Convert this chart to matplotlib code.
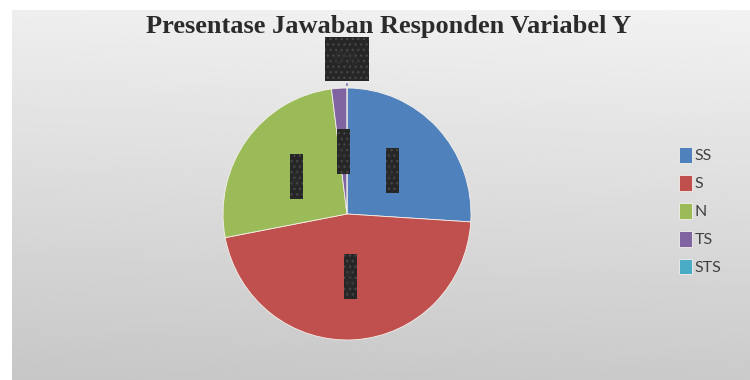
import numpy as np
import matplotlib
matplotlib.use("Agg")
import matplotlib.pyplot as plt
from matplotlib.patches import Rectangle

title = "Presentase Jawaban Responden Variabel Y"
categories = ["SS", "S", "N", "TS", "STS"]
values = [26, 46, 26, 2, 0]
colors = ["#4F81BD", "#C0504D", "#9BBB59", "#8064A2", "#4BACC6"]

W, H = 750, 380
fig = plt.figure(figsize=(W / 100, H / 100), dpi=100)
fig.patch.set_facecolor("white")

# grey gradient chart area (lighter at the top)
bg = fig.add_axes([12 / W, 0, 1 - 12 / W, 1 - 10 / H])
grad = np.linspace(0.94, 0.785, 256)[:, None] * np.ones((1, 64))
grad = grad + np.linspace(-0.006, 0.008, 64)[None, :]
bg.imshow(grad, cmap="gray", vmin=0, vmax=1, aspect="auto", extent=[0, 1, 0, 1])
bg.axis("off")

fig.text(389 / W, 1 - 27 / H, title, ha="center", va="center",
         fontsize=19, fontweight="bold", family="Liberation Serif", color="#2b2b2b")

# pie axes, data range -1..1 maps onto the pie ellipse
cx, cy, rx, ry = 347, 214, 124, 126
ax = fig.add_axes([(cx - rx) / W, (H - cy - ry) / H, 2 * rx / W, 2 * ry / H])
ax.set_facecolor("none")
wedges, _ = ax.pie(values, colors=colors, startangle=90, counterclock=False,
                   wedgeprops=dict(edgecolor="#f4f0ea", linewidth=0.6))
ax.set_xlim(-1, 1)
ax.set_ylim(-1, 1)
ax.set_aspect("auto")
ax.axis("off")

# data labels appear as dark boxes
bw, bh = 13 / rx, 45 / ry
for w, v in zip(wedges, values):
    mid = np.deg2rad((w.theta1 + w.theta2) / 2)
    if v == 0:
        r = 1.23
        sw, sh = 44 / rx, 44 / ry
        tx, ty = r * np.cos(mid), r * np.sin(mid)
        ax.annotate("", xy=(np.cos(mid), np.sin(mid)), xytext=(tx, ty - sh / 2),
                    arrowprops=dict(arrowstyle="-", color="#7a6fb0", lw=1.2),
                    annotation_clip=False)
        ax.add_patch(Rectangle((tx - sw / 2, ty - sh / 2), sw, sh, facecolor="#262626",
                               edgecolor="#454545", lw=0, hatch="...", clip_on=False, zorder=5))
        ax.text(tx, ty, "{}%".format(v), ha="center", va="center", fontsize=12,
                color="#303030", zorder=6, clip_on=False)
    else:
        r = 0.5
        tx, ty = r * np.cos(mid), r * np.sin(mid)
        ax.add_patch(Rectangle((tx - bw / 2, ty - bh / 2), bw, bh, facecolor="#262626",
                               edgecolor="#454545", lw=0, hatch="...", zorder=5))
        ax.text(tx, ty, "{}%".format(v), ha="center", va="center", fontsize=6,
                rotation=90, color="#303030", zorder=6)

fig.legend(wedges, categories, loc="center left", bbox_to_anchor=(679 / W, 1 - 211 / H),
           frameon=False, handlelength=0.8, handleheight=1.15,
           handletextpad=0.2, labelspacing=0.72, borderpad=0, borderaxespad=0,
           prop=dict(family="Lato", size=11.5), labelcolor="#404040")

fig.savefig("out.png", dpi=100)
